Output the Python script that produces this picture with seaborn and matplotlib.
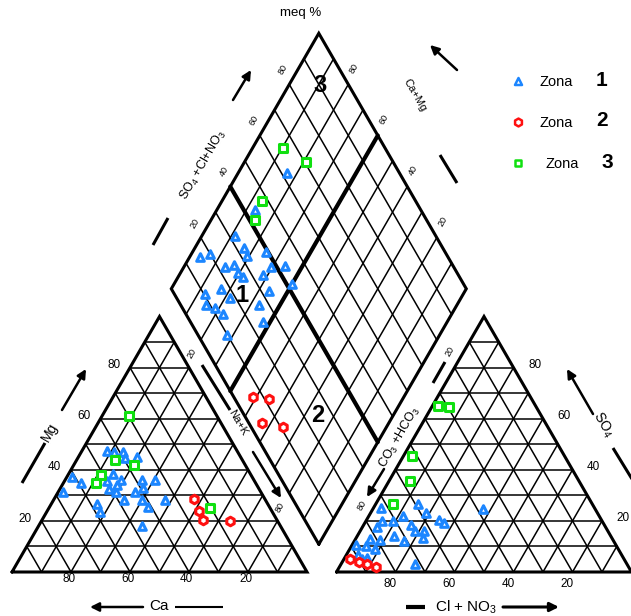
import numpy as np
import pandas as pd
import matplotlib
matplotlib.use("Agg")
import matplotlib.pyplot as plt
import seaborn as sns

# ---- data (meq %) ----
# cation triangle: Ca and Mg (Na+K is the rest)
cat_ca_z1 = [44, 42, 39, 39.5, 35, 61, 59, 67, 46.5, 50, 45, 51, 49, 47.5, 38, 33.5, 39, 42.5, 48, 58, 58.5, 42, 41, 34, 47]
cat_mg_z1 = [47.5, 47, 47, 44.5, 45, 37, 35, 31.5, 38.5, 35.5, 36, 32.5, 31.5, 34, 36, 36, 33, 31.5, 28, 26.5, 23.5, 28, 25.5, 28, 18]
cat_ca_z2 = [24, 24.5, 25, 16]
cat_mg_z2 = [28.5, 24, 20.5, 20]
cat_ca_z3 = [30, 43, 37.5, 51, 54, 20.5]
cat_mg_z3 = [61, 44, 42, 38, 35, 25]

# anion triangle: Cl+NO3 and SO4 (CO3+HCO3 is the rest)
an_cl_z1 = [2.5, 14.5, 19, 11.5, 5.5, 9, 5, 16, 24.5, 27, 37.5, 21.5, 18.5, 12.5, 17, 22.5, 5, 8.5, 1.5, 5, 8.5, 4, 7.5, 6, 25]
an_so4_z1 = [25, 26.5, 23, 22, 20, 20, 17.5, 18.5, 20.5, 19, 24.5, 16, 16, 14, 12, 13.5, 13, 12.5, 10.5, 10, 9, 6.5, 5.5, 5, 3]
an_cl_z2 = [2, 5.5, 9, 12.5]
an_so4_z2 = [5, 4, 3, 2]
an_cl_z3 = [2, 6, 3, 7, 6]
an_so4_z3 = [65, 64.5, 45.5, 35.5, 26.5]

# diamond: Na+K and SO4+Cl+NO3
dia_nak_z1 = [16.5, 13, 11.5, 3.5, 6.5, 16.5, 19, 25, 14, 16.5, 34, 29.5, 19.5, 22, 28.5, 40,
              12.5, 17, 21.5, 33.5, 15, 18.5, 33, 22.5, 37.5, 28]
dia_so4cl_z1 = [62, 44, 32, 16, 20, 32.5, 32, 39.5, 22.5, 26, 43, 38, 25.5, 26.5, 34, 42,
                10.5, 17, 18, 32.5, 8.5, 11, 26.5, 12.5, 24.5, 10]
dia_nak_z2 = [49, 54.5, 57, 65]
dia_so4cl_z2 = [6.5, 11.5, 4.5, 11]
dia_nak_z3 = [10.5, 21, 13.5, 15]
dia_so4cl_z3 = [65.5, 70.5, 48, 42]

zones = ["1", "2", "3"]
zone_colors = {"1": "#1c86ff", "2": "#ff1010", "3": "#10e010"}
zone_markers = {"1": "^", "2": "h", "3": "s"}
zone_sizes = {"1": 30, "2": 38, "3": 26}

tick_vals = [80, 60, 40, 20]

# ---- geometry (unit = triangle side) ----
S = np.sqrt(3) / 2
G = 0.1
DCX, DBY = 1.04, 0.094
DB = np.array([DCX, DBY])
DL = np.array([DCX - 0.5, DBY + S])
DR = np.array([DCX + 0.5, DBY + S])
DT = np.array([DCX, DBY + 2 * S])


def cation_xy(ca, mg):
    ca, mg = np.asarray(ca, float), np.asarray(mg, float)
    na = 100 - ca - mg
    return (na + mg / 2) / 100, mg / 100 * S


def anion_xy(cl, so4):
    cl, so4 = np.asarray(cl, float), np.asarray(so4, float)
    return 1 + G + (cl + so4 / 2) / 100, so4 / 100 * S


def diamond_xy(nak, so4cl):
    a = np.asarray(nak, float)[:, None] / 100
    b = np.asarray(so4cl, float)[:, None] / 100
    p = DL + a * (DB - DL) + b * (DT - DL)
    return p[:, 0], p[:, 1]


def px(x, y):
    # picture pixel -> axis units, only for annotation placement
    return (x - 12) / 295, (572 - y) / 295


sns.set_style("white")
plt.rcParams["font.family"] = ["Liberation Sans", "DejaVu Sans"]
plt.rcParams["text.color"] = "black"
plt.rcParams["mathtext.fontset"] = "custom"
plt.rcParams["mathtext.rm"] = "Liberation Sans"
plt.rcParams["mathtext.bf"] = "Liberation Sans:bold"

fig = plt.figure(figsize=(6.31, 6.16), dpi=100)
ax = fig.add_axes([0, 0, 1, 1])
ax.set_xlim(-12 / 295, 619 / 295)
ax.set_ylim(-44 / 295, 572 / 295)
ax.axis("off")

K = "black"
thin, edge, bold = 1.1, 2.2, 3.0

# ---- triangles ----
for x0 in [0, 1 + G]:
    for i in range(1, 10):
        t = i / 10
        ax.plot([x0 + t / 2, x0 + 1 - t / 2], [t * S, t * S], color=K, lw=thin)
        ax.plot([x0 + t, x0 + t + (1 - t) / 2], [0, (1 - t) * S], color=K, lw=thin)
        ax.plot([x0 + t, x0 + t / 2], [0, t * S], color=K, lw=thin)
    ax.plot([x0, x0 + 1, x0 + 0.5, x0], [0, 0, S, 0], color=K, lw=edge,
            solid_joinstyle="miter")

# ---- diamond ----
for i in range(1, 10):
    t = i / 10
    lw = bold if i == 4 else thin
    p = DL + t * (DB - DL)
    ax.plot([p[0], p[0] + DT[0] - DL[0]], [p[1], p[1] + DT[1] - DL[1]], color=K, lw=lw)
    q = DL + t * (DT - DL)
    ax.plot([q[0], q[0] + DB[0] - DL[0]], [q[1], q[1] + DB[1] - DL[1]], color=K, lw=lw)
dia = np.array([DB, DR, DT, DL, DB])
ax.plot(dia[:, 0], dia[:, 1], color=K, lw=edge, solid_joinstyle="miter")

# ---- samples ----
rows = []
for z, ca, mg in [("1", cat_ca_z1, cat_mg_z1), ("2", cat_ca_z2, cat_mg_z2), ("3", cat_ca_z3, cat_mg_z3)]:
    x, y = cation_xy(ca, mg)
    rows += [dict(x=a, y=b, zona=z) for a, b in zip(x, y)]
for z, cl, so4 in [("1", an_cl_z1, an_so4_z1), ("2", an_cl_z2, an_so4_z2), ("3", an_cl_z3, an_so4_z3)]:
    x, y = anion_xy(cl, so4)
    rows += [dict(x=a, y=b, zona=z) for a, b in zip(x, y)]
for z, n, s_ in [("1", dia_nak_z1, dia_so4cl_z1), ("2", dia_nak_z2, dia_so4cl_z2), ("3", dia_nak_z3, dia_so4cl_z3)]:
    x, y = diamond_xy(n, s_)
    rows += [dict(x=a, y=b, zona=z) for a, b in zip(x, y)]
df = pd.DataFrame(rows)

for z in zones:
    d = df[df["zona"] == z]
    sns.scatterplot(x=d["x"], y=d["y"], marker=zone_markers[z], s=zone_sizes[z],
                    facecolor="white", edgecolor=zone_colors[z], linewidth=2.2,
                    ax=ax, zorder=5, legend=False)

# ---- tick labels ----
fs_tick = 8.5
for v in tick_vals:
    ax.text(1 - v / 100 - 0.008, -0.024, str(v), ha="center", va="center", fontsize=fs_tick)
    x, y = v / 200, v / 100 * S
    ax.text(x - 0.055, y + 0.008, str(v), ha="center", va="center", fontsize=fs_tick)
    ax.text(1 + G + 1 - v / 100 - 0.017, -0.04, str(v), ha="center", va="center", fontsize=fs_tick)
    x, y = 1 + G + 1 - v / 200, v / 100 * S
    ax.text(x + 0.072, y + 0.01, str(v), ha="center", va="center", fontsize=fs_tick)

fs_small = 6.5
for v in tick_vals:
    q = DL + v / 100 * (DT - DL)
    ax.text(q[0] - 0.02, q[1] + 0.05, str(v), ha="center", va="center", fontsize=fs_small, rotation=60)
    q = DT + (100 - v) / 100 * (DR - DT)
    ax.text(q[0] + 0.019, q[1] + 0.054, str(v), ha="center", va="center", fontsize=fs_small, rotation=60)
for v in [20, 80]:
    x, y = 0.5 + v / 200, (1 - v / 100) * S
    ax.text(x + 0.01, y + 0.047, str(v), ha="center", va="center", fontsize=fs_small, rotation=60)
    x, y = 1 + G + 0.5 - v / 200, (1 - v / 100) * S
    ax.text(x - 0.014, y + 0.054, str(v), ha="center", va="center", fontsize=fs_small, rotation=60)

# ---- axis names with arrows ----
def bar(p0, p1, lw=2.2):
    a, b = px(*p0), px(*p1)
    ax.plot([a[0], b[0]], [a[1], b[1]], color=K, lw=lw, solid_capstyle="butt")


def arrow(p0, p1, lw=1.8):
    ax.annotate("", xy=px(*p1), xytext=px(*p0),
                arrowprops=dict(arrowstyle="-|>", color=K, lw=lw, mutation_scale=13,
                                shrinkA=0, shrinkB=0))


def label(p, s, rot=0, fs=10, **kw):
    ax.text(*px(*p), s, rotation=rot, ha="center", va="center", fontsize=fs,
            rotation_mode="anchor", **kw)


bar((22, 483), (45, 443))
label((50, 432), "Mg", 60, 10)
arrow((62, 410), (86, 369))

arrow((143, 607), (90, 607))
label((159, 606), "Ca", 0, 11)
bar((175, 607), (223, 607), 1.5)

bar((202, 365), (230, 410))
label((238, 423), "Na+K", -60, 8)
arrow((253, 452), (281, 498))

bar((153, 245), (168, 218))
label((203, 165), r"SO$_4$ +Cl+NO$_3$", 60, 9)
arrow((233, 100), (251, 70))

arrow((457, 70), (430, 45))
label((415, 95), "Ca+Mg", -60, 8)
bar((440, 155), (457, 183))

bar((445, 362), (433, 383))
label((400, 437), r"CO$_3$ +HCO$_3$", 60, 9)
arrow((384, 469), (367, 497))

arrow((593, 414), (567, 369))
label((603, 425), r"SO$_4$", -60, 10)
bar((613, 448), (632, 479))

bar((406, 607), (425, 607), 3.0)
label((466, 607), r"Cl + NO$_3$", 0, 11)
arrow((503, 607), (559, 607), 2.2)

label((301, 13), "meq %", 0, 9.5)
label((320, 86), "3", 0, 17, fontweight="bold")
label((242, 296), "1", 0, 17, fontweight="bold")
label((318, 416), "2", 0, 17, fontweight="bold")

# ---- legend ----
for i, z in enumerate(zones):
    yy = 81 + 41 * i
    lx, ly = px(518, yy)
    sns.scatterplot(x=[lx], y=[ly], marker=zone_markers[z], s=zone_sizes[z] * 0.85,
                    facecolor="white", edgecolor=zone_colors[z], linewidth=1.8,
                    ax=ax, legend=False)
    tx = 540 if z != "3" else 545
    ax.text(*px(tx, yy + 1), "Zona", ha="left", va="center", fontsize=10.5)
    ax.text(*px(tx + 56, yy - 1), z, ha="left", va="center", fontsize=15, fontweight="bold")

fig.savefig("out.png", dpi=100)
